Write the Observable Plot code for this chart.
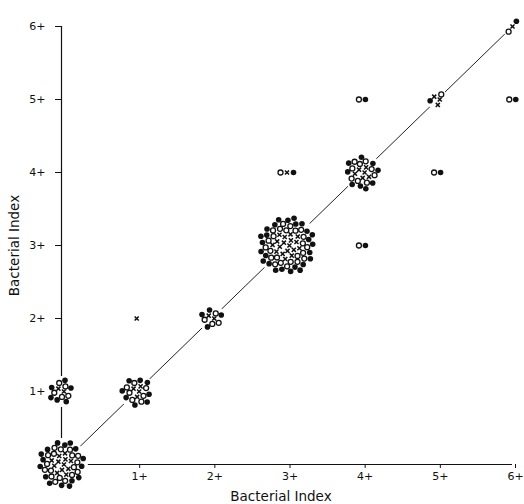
<!DOCTYPE html>
<html><head><meta charset="utf-8">
<script src="https://cdn.jsdelivr.net/npm/d3@7"></script>
<script src="https://cdn.jsdelivr.net/npm/@observablehq/plot@0.6"></script>
<style>body{margin:0;background:#fff}</style>
</head><body><div id="chart"></div>
<script>
// Cluster positions (bacterial index on each axis) and counts per symbol
const xVals   = [0, 0, 1, 1, 2, 3, 3, 4, 4, 4, 5, 5, 6, 6];
const yVals   = [0, 1, 1, 2, 2, 3, 4, 3, 4, 5, 4, 5, 5, 6];
const nCross  = [12, 2, 4, 1, 2, 18, 1, 0, 6, 0, 0, 3, 0, 1];
const nOpen   = [18, 5, 7, 0, 4, 24, 1, 1, 9, 1, 1, 1, 1, 1];
const nFilled = [16, 6, 8, 0, 4, 26, 1, 1, 9, 1, 1, 1, 1, 1];
const tickValues = [1, 2, 3, 4, 5, 6];
const tickLabels = ["1+", "2+", "3+", "4+", "5+", "6+"];
const axisTitle = "Bacterial Index";

const W = 524, H = 504, mL = 61, mR = 12, mT = 26, mB = 40;
const kx = (W - mL - mR) / 6, ky = (H - mT - mB) / 6;
const pitch = 3.45;

const pts = [], bg = [];
for (let c = 0; c < xVals.length; c++) {
  const kinds = [
    ...Array(nCross[c]).fill("cross"),
    ...Array(nOpen[c]).fill("open"),
    ...Array(nFilled[c]).fill("filled")
  ];
  const n = kinds.length;
  if (n <= 3) {
    const order = {open: 0, cross: 1, filled: 2};
    kinds.sort((a, b) => order[a] - order[b]);
    const onDiag = xVals[c] === yVals[c];
    kinds.forEach((k, i) => {
      const t = (i - (n - 1) / 2) * 6.5;
      const ox = onDiag ? t * 0.6 : t, oy = onDiag ? t * 0.8 : 0;
      pts.push({x: xVals[c] + ox / kx, y: yVals[c] + oy / ky, kind: k});
    });
  } else {
    kinds.forEach((k, i) => {
      const r = pitch * Math.sqrt(i + 0.5), th = i * 2.39996;
      pts.push({x: xVals[c] + r * Math.cos(th) / kx, y: yVals[c] + r * Math.sin(th) / ky, kind: k});
    });
  }
  bg.push({x: xVals[c], y: yVals[c], r: n <= 3 ? 3 * n + 2 : pitch * Math.sqrt(n) + 3});
}
const diag = [0, 6].map(v => ({x: v, y: v}));
const fmt = d => tickLabels[tickValues.indexOf(d)];

const chart = Plot.plot({
  width: W, height: H,
  marginLeft: mL, marginRight: mR, marginTop: mT, marginBottom: mB,
  style: {fontFamily: "DejaVu Sans", fontSize: "11px", background: "#fff", color: "#111", overflow: "visible"},
  x: {domain: [0, 6]},
  y: {domain: [0, 6]},
  r: {type: "identity"},
  marks: [
    Plot.ruleX([0], {y1: 0, y2: 6, stroke: "#111", strokeWidth: 1.2}),
    Plot.ruleY([0], {x1: 0, x2: 6, stroke: "#111", strokeWidth: 1.2}),
    Plot.line(diag, {x: "x", y: "y", stroke: "#222", strokeWidth: 1}),
    Plot.axisX({ticks: tickValues, tickFormat: fmt, tickSize: 4, tickPadding: 4, dx: 3, stroke: "#111", fill: "#111", label: null, fontSize: 11}),
    Plot.axisY({ticks: tickValues, tickFormat: fmt, tickSize: 6, tickPadding: 10, stroke: "#111", fill: "#111", label: null, fontSize: 11}),
    Plot.text([axisTitle], {frameAnchor: "bottom", textAnchor: "middle", dx: -6, dy: 36, fontSize: 13.5, fill: "#111", text: d => d}),
    Plot.text([axisTitle], {frameAnchor: "left", textAnchor: "middle", dx: -47, dy: 0, rotate: -90, fontSize: 13.5, fill: "#111", text: d => d}),
    Plot.dot(bg, {x: "x", y: "y", r: "r", fill: "white", stroke: "none"}),
    Plot.dot(pts.filter(d => d.kind === "open"), {x: "x", y: "y", r: 2.5, fill: "white", stroke: "#111", strokeWidth: 1.3}),
    Plot.dot(pts.filter(d => d.kind === "filled"), {x: "x", y: "y", r: 2.8, fill: "#111", stroke: "none"}),
    Plot.dot(pts.filter(d => d.kind === "cross"), {x: "x", y: "y", r: 2, symbol: "times", stroke: "#111", strokeWidth: 1.5})
  ]
});
document.getElementById("chart").append(chart);
</script>
</body></html>
